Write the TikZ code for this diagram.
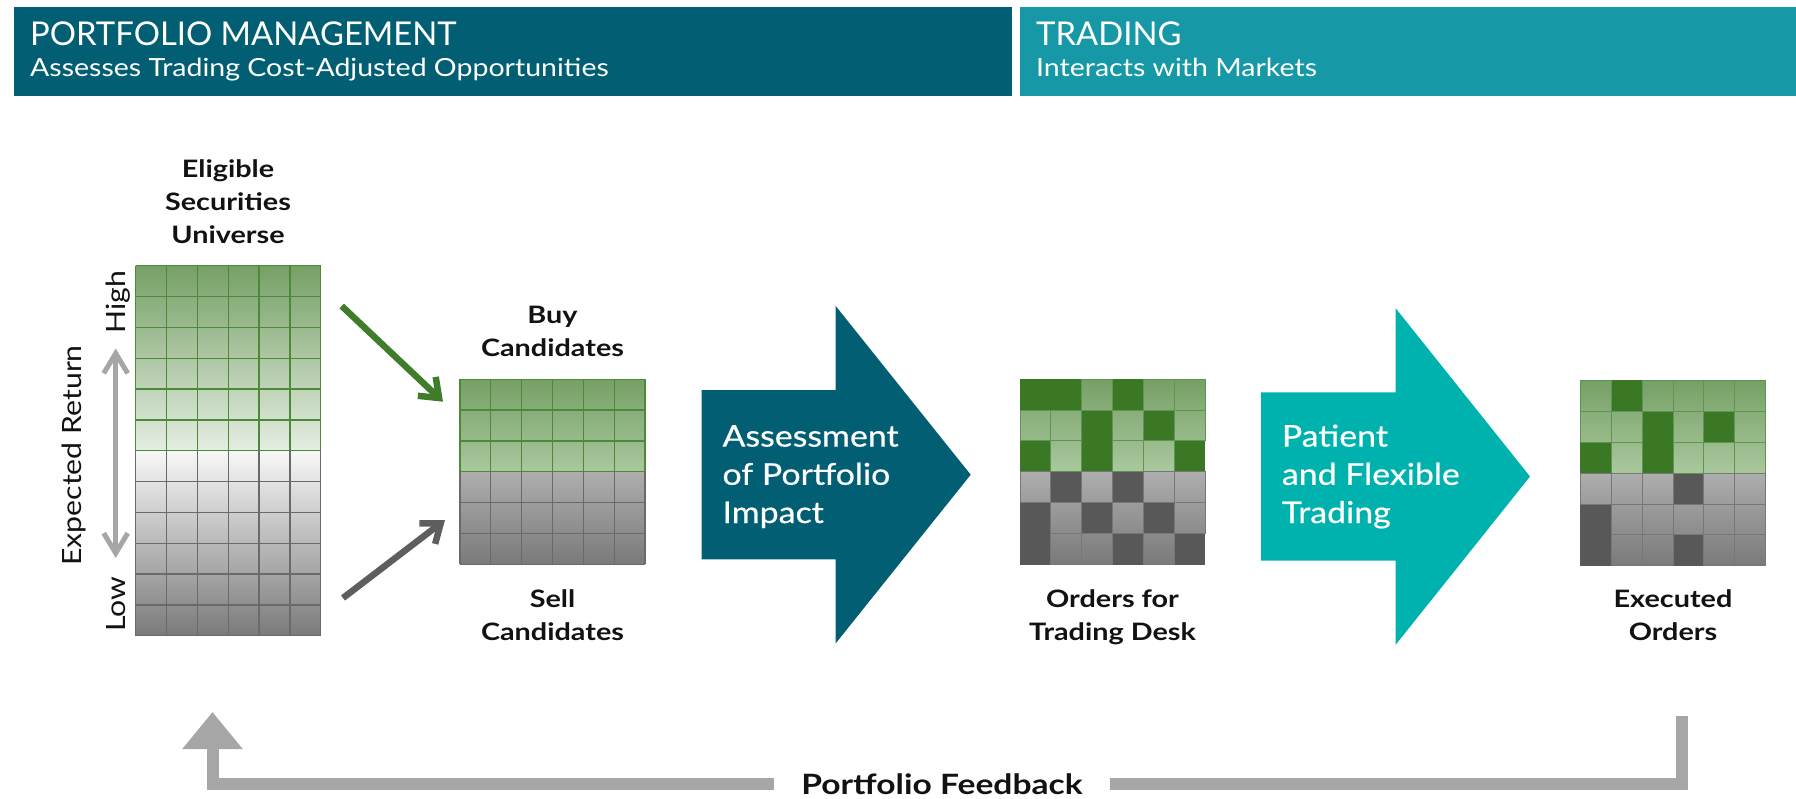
\documentclass[tikz,border=0pt]{standalone}
\usepackage{fontspec}
\setmainfont{Lato}
\newfontfamily\lblfont{Lato}[FakeStretch=1.2]
\newfontfamily\widefont{Lato}[FakeStretch=1.14]
\newfontfamily\flowfont{Lato}[FakeStretch=1.13,FakeBold=0.5]
\usetikzlibrary{arrows.meta}

\definecolor{pmBlue}{HTML}{025F73}
\definecolor{trTeal}{HTML}{1698A6}
\definecolor{flowTeal}{HTML}{00B2AE}
\definecolor{gTop}{HTML}{76A066}
\definecolor{gMid}{HTML}{AAC89E}
\definecolor{gPale}{HTML}{E5EEE2}
\definecolor{gDark}{HTML}{3B7826}
\definecolor{gLine}{HTML}{4C8A3A}
\definecolor{gEdge}{HTML}{5E9650}
\definecolor{kPale}{HTML}{F8F8F8}
\definecolor{kTop}{HTML}{AEAEAE}
\definecolor{kBot}{HTML}{7A7A7A}
\definecolor{kDark}{HTML}{585858}
\definecolor{kLine}{HTML}{6A6A6A}
\definecolor{kEdge}{HTML}{777777}
\definecolor{buyGreen}{HTML}{3F7D2B}
\definecolor{sellGray}{HTML}{5E5E5E}
\definecolor{axisGray}{HTML}{A6A6A6}

% size of one grid cell
\def\cs{30.833}

% uniform block: x0, y0, rows, top colour, bottom colour, line colour
\newcommand\shadedgrid[6]{%
  \path[top color=#4,bottom color=#5] (#1,#2) rectangle ++(6*\cs,#3*\cs);
  \foreach \ii in {0,...,6}
    \draw[#6,line width=1.3pt] (#1+\ii*\cs,#2) -- ++(0,#3*\cs);
  \foreach \jj in {0,...,#3}
    \draw[#6,line width=1.3pt] (#1,#2+\jj*\cs) -- ++(6*\cs,0);
}

% 6x6 block with filled (1) and open (0) cells: x0, y0, row specs
\newcommand\patgrid[3]{%
  \foreach \pass in {1,2}{%
    \foreach \rr/\rowspec in {#3}{%
      \pgfmathtruncatemacro\kk{mod(\rr,3)}%
      \pgfmathtruncatemacro\pctT{100-100*\kk/3}%
      \pgfmathtruncatemacro\pctB{100-100*(\kk+1)/3}%
      \ifnum\rr<3
        \def\cT{gTop!\pctT!gMid}\def\cB{gTop!\pctB!gMid}\def\cD{gDark}\def\cL{gEdge}%
      \else
        \def\cT{kTop!\pctT!kBot}\def\cB{kTop!\pctB!kBot}\def\cD{kDark}\def\cL{kEdge}%
      \fi
      \foreach \vv [count=\cc from 0] in \rowspec {%
        \ifnum\vv=1
          \ifnum\pass=1
            \fill[\cD] (#1+\cc*\cs-0.4,#2+\rr*\cs-0.4) rectangle ++(\cs+0.8,\cs+0.8);
          \fi
        \else
          \ifnum\pass=2
            \path[top color=\cT,bottom color=\cB,draw=\cL,line width=1pt]
              (#1+\cc*\cs,#2+\rr*\cs) rectangle ++(\cs,\cs);
          \fi
        \fi
      }%
    }%
  }%
}

\begin{document}
\begin{tikzpicture}[x=1pt,y=-1pt,
  hdrtitle/.style={anchor=base west,inner sep=0pt,text=white,font=\fontsize{32.8}{36}\selectfont},
  hdrsub/.style={anchor=base west,inner sep=0pt,text=white,font=\widefont\fontsize{25}{30}\selectfont},
  lbl/.style={anchor=base,align=center,inner sep=0pt,text=black!93,
    font=\lblfont\bfseries\fontsize{24}{33}\selectfont},
  flowtext/.style={anchor=base west,align=left,inner sep=0pt,text=white,
    font=\flowfont\fontsize{30}{38.2}\selectfont},
  axislabel/.style={rotate=90,anchor=base,inner sep=0pt,text=black!93,
    font=\widefont\fontsize{26.5}{30}\selectfont},
  rangearrow/.style={axisGray,line width=5pt,
    {Straight Barb[length=20pt,width=24pt]}-{Straight Barb[length=20pt,width=24pt]}},
  buyarrow/.style={buyGreen,line width=6.5pt,-{Straight Barb[length=17pt,width=26pt]}},
  sellarrow/.style={sellGray,line width=6.5pt,-{Straight Barb[length=17pt,width=26pt]}},
  feedback/.style={axisGray,line width=12pt,line join=miter},
  fbtext/.style={inner sep=0pt,inner xsep=27pt,text=black!93,
    font=\lblfont\bfseries\fontsize{28}{32}\selectfont}
]
\useasboundingbox (0,0) rectangle (1796,799);

% header bands
\fill[pmBlue] (14,7) rectangle (1012,96);
\fill[trTeal] (1020,7) rectangle (1796,96);
\node[hdrtitle] (pmtitle) at (30,46) {PORTFOLIO MANAGEMENT};
\node[hdrsub] (pmsub) at (30,77) {Assesses Trading Cost-Adjusted Opportunities};
\node[hdrtitle] (trtitle) at (1036,46) {TRADING};
\node[hdrsub] (trsub) at (1036,77) {Interacts with Markets};

% eligible securities universe (base anchor sits on the last line)
\shadedgrid{135.7}{450.7}{6}{kPale}{kBot}{kLine}
\shadedgrid{135.7}{265.7}{6}{gTop}{gPale}{gLine}
\node[lbl] (univ) at (228,244) {Eligible\\Securities\\Universe};

% expected return axis
\node[axislabel] (ret) at (81,455.5) {Expected Return};
\node[axislabel] (high) at (125,302.5) {High};
\node[axislabel] (low) at (125,604) {Low};
\coordinate (rettop) at (115.7,348.5);
\coordinate (retbot) at (115.7,558);
\draw[rangearrow] (retbot) -- (rettop);

% buy and sell candidates
\shadedgrid{460}{471.8}{3}{kTop}{kBot}{kLine}
\shadedgrid{460}{379.3}{3}{gTop}{gMid}{gLine}
\node[lbl] (buy) at (552.5,357) {Buy\\Candidates};
\node[lbl] (sell) at (552.5,640.5) {Sell\\Candidates};
\coordinate (buyfrom) at (341.7,306);
\coordinate (buyto) at (443,401.7);
\coordinate (sellfrom) at (343,598);
\coordinate (sellto) at (445,520);
\draw[buyarrow] (buyfrom) -- (buyto);
\draw[sellarrow] (sellfrom) -- (sellto);

% assessment step
\fill[pmBlue] (701.7,390) -- (835.7,390) -- (835.7,306) -- (970.7,474.7)
  -- (835.7,643.3) -- (835.7,559.3) -- (701.7,559.3) -- cycle;
\node[flowtext] (assess) at (722.3,523) {Assessment\\of Portfolio\\Impact};

% orders for the trading desk
\patgrid{1020}{379.3}{0/{1,1,0,1,0,0},1/{0,0,1,0,1,0},2/{1,0,1,0,0,1},3/{0,1,0,1,0,0},4/{1,0,1,0,1,0},5/{1,0,0,1,0,1}}
\node[lbl] (orders) at (1112.5,640.5) {Orders for\\Trading Desk};

% trading step
\fill[flowTeal] (1261,392.3) -- (1395.7,392.3) -- (1395.7,308.3) -- (1530,476.5)
  -- (1395.7,644.7) -- (1395.7,560.7) -- (1261,560.7) -- cycle;
\node[flowtext] (patient) at (1281.7,523) {Patient\\and Flexible\\Trading};

% executed orders
\patgrid{1580.5}{380.7}{0/{0,1,0,0,0,0},1/{0,0,1,0,1,0},2/{1,0,1,0,0,0},3/{0,0,0,1,0,0},4/{1,0,0,0,0,0},5/{1,0,0,1,0,0}}
\node[lbl] (executed) at (1673,640.5) {Executed\\Orders};

% feedback loop
\node[fbtext] (fb) at (942,784) {Portfolio Feedback};
\coordinate (fbup) at (212.5,712);
\coordinate (fbdown) at (1682,716);
\draw[feedback,-{Triangle[width=58pt,length=37pt]}] (fb.west) -| (fbup);
\draw[feedback] (fbdown) |- (fb.east);
\end{tikzpicture}
\end{document}
